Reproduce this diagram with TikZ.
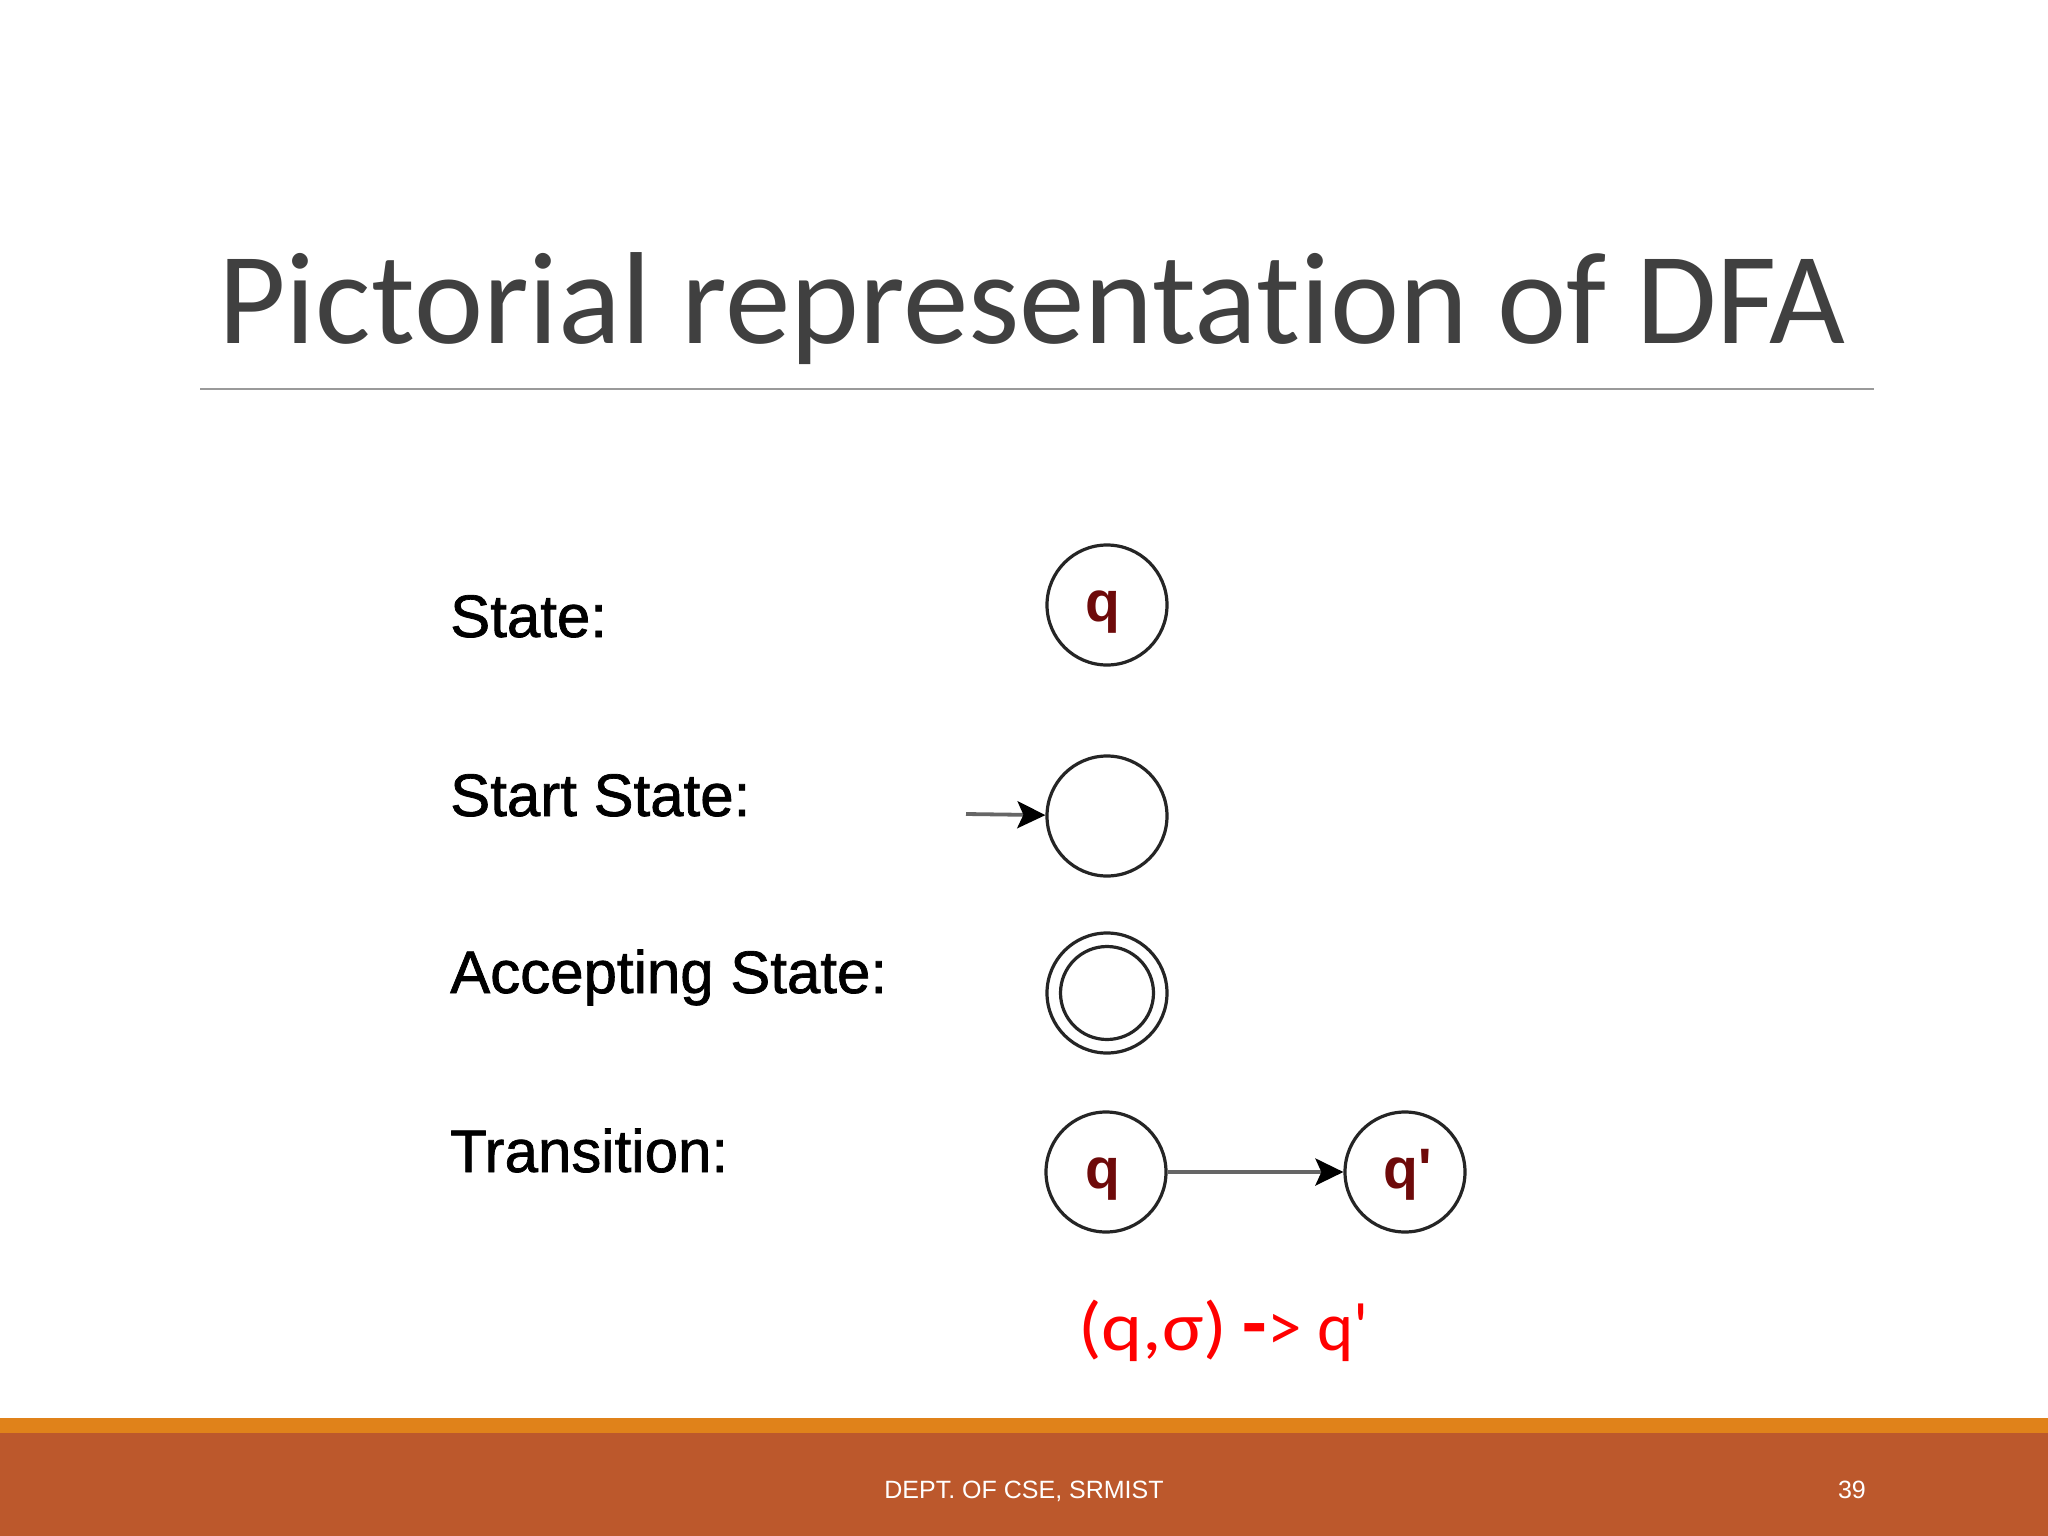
\documentclass[tikz,border=0pt]{standalone}
\usepackage{fontspec}
\usepackage{graphicx}
\setmainfont{Liberation Sans}
\newfontfamily\calib{Carlito}[Ligatures=NoCommon]
\newfontfamily\lblfont{Liberation Sans}[FakeBold=1.2]
\newfontfamily\qfont{Liberation Sans Bold}
\usetikzlibrary{arrows.meta}
\definecolor{titlegray}{HTML}{404040}
\definecolor{rulegray}{HTML}{9A9A9A}
\definecolor{qred}{HTML}{6E0A0A}
\definecolor{stroke}{HTML}{252525}
\definecolor{arrgray}{HTML}{666666}
\definecolor{bandorange}{HTML}{E0821A}
\definecolor{bandrust}{HTML}{BC582C}
\definecolor{formred}{HTML}{FF0000}
\tikzset{
  stbox/.style={circle, draw=stroke, line width=3.2pt, minimum size=120pt, inner sep=0pt, fill=white},
  innerbox/.style={circle, draw=stroke, line width=3.2pt, minimum size=93pt, inner sep=0pt},
  qlbl/.style={anchor=base, inner sep=0pt, font=\qfont\fontsize{57}{57}\selectfont, text=qred},
  lbl/.style={anchor=base west, inner sep=0pt, font=\lblfont\fontsize{60}{60}\selectfont, text=black},
  trans/.style={draw=arrgray, line width=3.8pt, -{Stealth[length=28pt, width=27pt, inset=6pt, color=black]}},
}
\begin{document}
\begin{tikzpicture}[x=1pt, y=-1pt]
\useasboundingbox (0,0) rectangle (2048,1536);
\fill[white] (0,0) rectangle (2048,1536);
% title
\node[anchor=base west, inner sep=0pt, text=titlegray, font=\calib\fontsize{131}{131}\selectfont] (title) at (218,343) {Pictorial representation of DFA};
\coordinate (ruleL) at (200,389);
\coordinate (ruleR) at (1874,389);
\draw[rulegray, line width=2pt] (ruleL) -- (ruleR);
% labels
\node[lbl] (l1) at (450,637) {State:};
\node[lbl] (l2) at (450,816) {Start State:};
\node[lbl] (l3) at (450,993) {Accepting State:};
\node[lbl] (l4) at (450,1172) {Transition:};
% state
\node[stbox] (s) at (1107,605) {};
\node[qlbl] (sq) at (1103,621) {q};
% start state
\node[stbox] (start) at (1107,816) {};
\coordinate (s0) at (966,814);
\draw[trans] (s0) -- (start);
% accepting
\node[stbox] (acc) at (1107,993) {};
\node[innerbox] (acci) at (1107,993) {};
% transition
\node[stbox] (tq) at (1106,1172) {};
\node[qlbl] (tqt) at (1103,1188) {q};
\node[stbox] (tq2) at (1405,1172) {};
\node[qlbl] (tq2t) at (1408,1188) {q'};
\draw[trans] (tq) -- (tq2);
% formula
\node[anchor=base west, inner sep=0pt, text=formred, font=\calib\fontsize{69}{69}\selectfont] (form) at (1078,1350) {\scalebox{1.13}[1]{(q,σ)} {\bfseries\fontsize{80}{80}\selectfont -}> q'};
% footer
\fill[bandorange] (0,1418) rectangle (2048,1434);
\fill[bandrust] (0,1433) rectangle (2048,1536);
\node[anchor=base, inner sep=0pt, text=white, font=\fontsize{25}{25}\selectfont] (foot) at (1024,1498) {DEPT. OF CSE, SRMIST};
\node[anchor=base east, inner sep=0pt, text=white, font=\fontsize{25}{25}\selectfont] (page) at (1866,1498) {39};
\end{tikzpicture}
\end{document}
